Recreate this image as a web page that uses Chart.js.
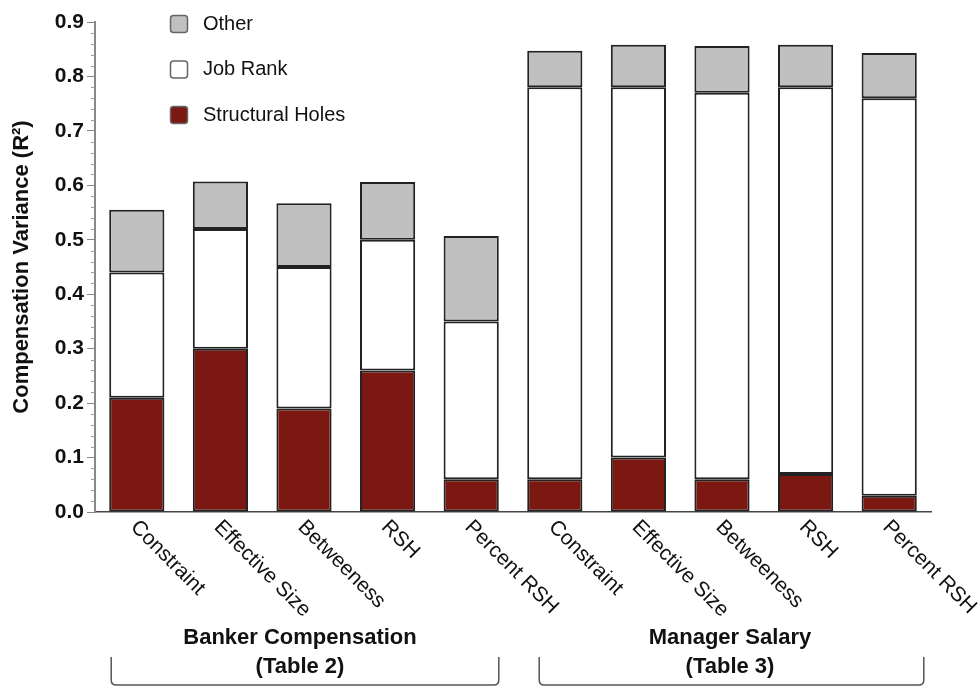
<!DOCTYPE html>
<html>
<head>
<meta charset="utf-8">
<script src="https://cdn.jsdelivr.net/npm/chart.js@4/dist/chart.umd.min.js"></script>
<style>
  html, body { margin: 0; padding: 0; background: #fff; }
  #wrap { width: 978px; height: 686px; }
</style>
</head>
<body>
<div id="wrap"><canvas id="myChart" width="978" height="686"></canvas></div>
<script>
let categories = ['Constraint', 'Effective Size', 'Betweeness', 'RSH', 'Percent RSH',
                  'Constraint', 'Effective Size', 'Betweeness', 'RSH', 'Percent RSH'];
let structuralHoles = [0.21, 0.30, 0.19, 0.26, 0.06, 0.06, 0.10, 0.06, 0.07, 0.03];
let jobRank = [0.23, 0.22, 0.26, 0.24, 0.29, 0.72, 0.68, 0.71, 0.71, 0.73];
let other = [0.115, 0.087, 0.117, 0.106, 0.157, 0.067, 0.078, 0.086, 0.078, 0.083];
let groupTitles = ['Banker Compensation', 'Manager Salary'];
let groupSubtitles = ['(Table 2)', '(Table 3)'];
let groupStart = [0, 5];
let groupEnd = [4, 9];
let yTicks = [0, 0.1, 0.2, 0.3, 0.4, 0.5, 0.6, 0.7, 0.8, 0.9];

const FONT = "'Liberation Sans', Arial, Helvetica, sans-serif";

// minor ticks on the y axis
const minorTicks = {
  id: 'minorTicks',
  afterDraw(chart) {
    const y = chart.scales.y, ctx = chart.ctx;
    const left = chart.chartArea.left;
    ctx.save();
    ctx.strokeStyle = '#999';
    ctx.lineWidth = 1;
    for (let i = 0; i < 45; i++) {
      if (i % 5 === 0) continue;
      const py = Math.round(y.getPixelForValue(i * 0.02)) + 0.5;
      ctx.beginPath();
      ctx.moveTo(left - 4, py);
      ctx.lineTo(left, py);
      ctx.stroke();
    }
    ctx.restore();
  }
};

// rotated category labels, group titles and brackets
const xLabels = {
  id: 'xLabels',
  afterDraw(chart) {
    const x = chart.scales.x, ctx = chart.ctx;
    const bottom = chart.chartArea.bottom;
    ctx.save();
    ctx.fillStyle = '#111';
    ctx.font = '21px ' + FONT;
    ctx.textAlign = 'left';
    ctx.textBaseline = 'middle';
    categories.forEach((c, i) => {
      const px = x.getPixelForValue(i);
      ctx.save();
      ctx.translate(px - 3, bottom + 12);
      ctx.rotate(Math.PI / 4);
      ctx.fillText(c, 0, 0);
      ctx.restore();
    });

    const meta = chart.getDatasetMeta(0);
    ctx.textAlign = 'center';
    ctx.textBaseline = 'alphabetic';
    ctx.font = 'bold 22px ' + FONT;
    groupTitles.forEach((t, g) => {
      const b0 = meta.data[groupStart[g]], b1 = meta.data[groupEnd[g]];
      const l = b0.x - b0.width / 2 + (g === 0 ? 2 : 12);
      const r = b1.x + b1.width / 2 + (g === 0 ? 0 : 7);
      const cx = (b0.x + b1.x) / 2 + (g === 0 ? -4 : 8);
      ctx.fillStyle = '#111';
      ctx.fillText(t, cx, 644);
      ctx.fillText(groupSubtitles[g], cx, 673);
      ctx.strokeStyle = '#555';
      ctx.lineWidth = 1.5;
      ctx.beginPath();
      ctx.moveTo(l, 657);
      ctx.lineTo(l, 680);
      ctx.quadraticCurveTo(l, 685, l + 5, 685);
      ctx.lineTo(r - 5, 685);
      ctx.quadraticCurveTo(r, 685, r, 680);
      ctx.lineTo(r, 657);
      ctx.stroke();
    });
    ctx.restore();
  }
};

// vertical legend inside the plot, top entry first
const boxLegend = {
  id: 'boxLegend',
  afterDraw(chart) {
    const ctx = chart.ctx;
    const sets = chart.data.datasets.slice().reverse();
    ctx.save();
    ctx.font = '20px ' + FONT;
    ctx.textBaseline = 'middle';
    ctx.textAlign = 'left';
    sets.forEach((ds, i) => {
      const top = 15 + i * 45.5;
      ctx.beginPath();
      ctx.roundRect(170.5, top + 0.5, 17, 17, 3);
      ctx.fillStyle = ds.backgroundColor;
      ctx.fill();
      ctx.strokeStyle = '#666';
      ctx.lineWidth = 1.5;
      ctx.stroke();
      ctx.fillStyle = '#111';
      ctx.fillText(ds.label, 203, top + 9);
    });
    ctx.restore();
  }
};

let ctx = document.getElementById('myChart').getContext('2d');

let barStyle = {
  borderColor: '#222',
  borderWidth: 2,
  borderSkipped: false,
  barPercentage: 0.66,
  categoryPercentage: 1.0
};

let myChart = new Chart(ctx, {
  type: 'bar',
  data: {
    labels: categories,
    datasets: [
      Object.assign({ label: 'Structural Holes', data: structuralHoles, backgroundColor: '#7a1811' }, barStyle),
      Object.assign({ label: 'Job Rank', data: jobRank, backgroundColor: '#ffffff' }, barStyle),
      Object.assign({ label: 'Other', data: other, backgroundColor: '#c0c0c0' }, barStyle)
    ]
  },
  options: {
    responsive: false,
    animation: false,
    layout: {
      padding: { left: 0, right: 47, top: 22, bottom: 166 }
    },
    plugins: {
      legend: { display: false },
      tooltip: { enabled: false }
    },
    scales: {
      x: {
        stacked: true,
        grid: { display: false },
        border: { display: true, color: '#444', width: 1.5 },
        ticks: { display: false }
      },
      y: {
        stacked: true,
        min: 0,
        max: 0.9,
        afterFit(scale) { scale.width = 95; },
        afterBuildTicks(scale) { scale.ticks = yTicks.map(v => ({ value: v })); },
        grid: {
          drawOnChartArea: false,
          drawTicks: true,
          tickLength: 8,
          color: '#888'
        },
        border: { display: true, color: '#888', width: 2 },
        ticks: {
          color: '#111',
          padding: 3,
          font: { family: FONT, size: 21, weight: 'bold' },
          callback: v => v.toFixed(1)
        },
        title: {
          display: true,
          text: 'Compensation Variance (R²)',
          color: '#111',
          padding: { top: 9, bottom: 0 },
          font: { family: FONT, size: 22, weight: 'bold' }
        }
      }
    }
  },
  plugins: [minorTicks, xLabels, boxLegend]
});
</script>
</body>
</html>
